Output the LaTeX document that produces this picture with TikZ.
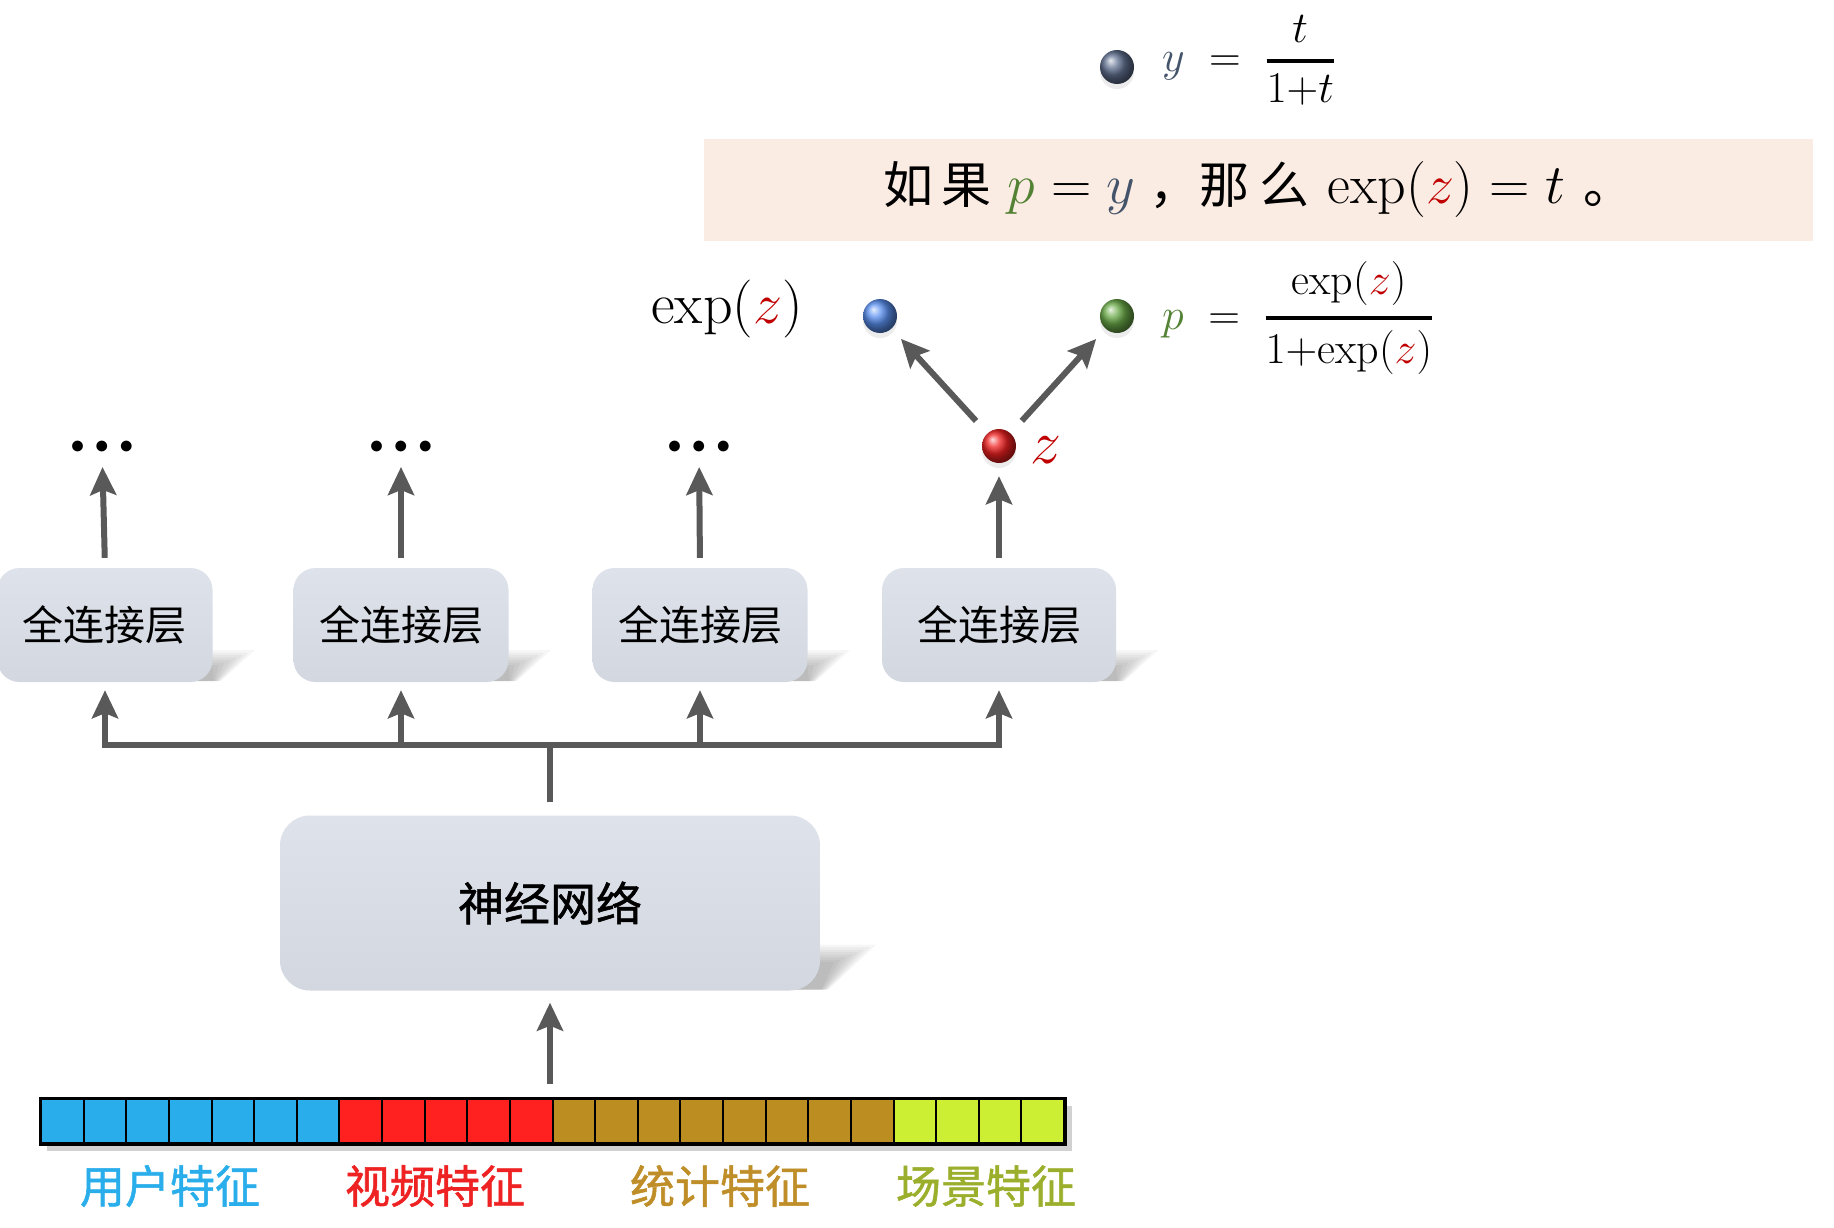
\RequirePackage{fix-cm}
\documentclass[tikz,border=0pt]{standalone}
\usepackage{fontspec}
\usepackage{amsmath}
\usetikzlibrary{arrows.meta,shadows,calc}
\pgfdeclarelayer{bg}
\pgfsetlayers{bg,main}
\newfontfamily\cjk{Noto Sans CJK SC}
\newfontfamily\cjkb[FakeBold=1.2]{Noto Sans CJK SC}
\definecolor{arrgray}{HTML}{595959}
\definecolor{boxtop}{HTML}{DEE2EA}
\definecolor{boxbot}{HTML}{D3D7E0}
\definecolor{bandc}{HTML}{FBECE3}
\definecolor{ycol}{HTML}{44546A}
\definecolor{pcol}{HTML}{548235}
\definecolor{zcol}{HTML}{C00000}
\definecolor{fblue}{HTML}{29AEEB}
\definecolor{fred}{HTML}{FF2020}
\definecolor{fbrown}{HTML}{BC8E22}
\definecolor{flime}{HTML}{CCEF33}
\definecolor{lblue}{HTML}{29AEEB}
\definecolor{lred}{HTML}{EE2222}
\definecolor{lbrown}{HTML}{BF8E28}
\definecolor{lolive}{HTML}{9BAF2C}
\definecolor{ballgrey}{HTML}{607090}
\definecolor{ballblue}{HTML}{5A90F0}
\definecolor{ballgreen}{HTML}{6AAA48}
\definecolor{ballred}{HTML}{F02020}
\newcommand{\myfrac}[2]{\genfrac{}{}{3.5pt}{0}{#1}{#2}}
\newcommand{\bshadow}[3]{%
  \foreach \k in {0,...,7}{%
    \fill[black,opacity=.035] ($(#1.south east)+(-40,-#2+\k*2.5)$) -- ($(#1.south east)+(#3-\k*6,-#2+\k*2.5)$)
      -- ($(#1.south east)+(8-\k,-1)$) -- ($(#1.south east)+(-40,-1)$) -- cycle;}}
\begin{document}
\begin{tikzpicture}[x=1pt,y=-1pt,
  arr/.style={draw=arrgray, line width=6pt, -{Stealth[length=28pt,width=26pt,inset=5pt]}},
  bus/.style={draw=arrgray, line width=6pt},
  box/.style={rounded corners=22pt, top color=boxtop, bottom color=boxbot, draw=none, inner sep=0},
  fc/.style={box, minimum width=215pt, minimum height=114pt, font=\cjk\fontsize{41}{44}\selectfont},
  ball/.style={circle, inner sep=0, minimum size=34pt, drop shadow={opacity=.15, shadow xshift=0pt, shadow yshift=-5pt}},
  dotsn/.style={inner sep=0, text height=14pt, text depth=0pt, font=\fontsize{28}{30}\selectfont},
  cell/.style={draw=black, line width=2pt, minimum width=42.625pt, minimum height=44pt, inner sep=0},
  flab/.style={font=\cjkb\fontsize{45}{48}\selectfont}
]
\begin{pgfonlayer}{bg}
\fill[white] (0,0) rectangle (1834,1228);
\end{pgfonlayer}
\useasboundingbox (0,0) rectangle (1834,1228);

% top formula
\node[ball, ball color=ballgrey] (yb) at (1117,67) {};
\node[anchor=base west, inner sep=0, font=\fontsize{44}{48}\selectfont] (yf) at (1162,72)
  {$\textcolor{ycol}{y}\;=\;\myfrac{t}{1{+}t}$};

% band
\node[fill=bandc, minimum width=1109pt, minimum height=102pt, inner sep=0,
      font=\cjk\fontsize{50}{54}\selectfont] (cond) at (1258.5,190)
  {如\hspace{8pt}果\hspace{16pt}{\fontsize{56}{60}\selectfont$\textcolor{pcol}{p}=\textcolor{ycol}{y}$}\hspace{14pt}，那\hspace{10pt}么\hspace{18pt}{\fontsize{56}{60}\selectfont$\exp(\textcolor{zcol}{z})=t$}\hspace{18pt}。};

% output balls
\node[font=\fontsize{58}{62}\selectfont] (ez) at (727,309) {$\exp(\textcolor{zcol}{z})$};
\node[ball, ball color=ballblue] (bb) at (880,316) {};
\node[ball, ball color=ballgreen] (gb) at (1117,316) {};
\node[anchor=base west, inner sep=0, font=\fontsize{44}{48}\selectfont] (pf) at (1162,329)
  {$\textcolor{pcol}{p}\;=\;\myfrac{\mathrm{exp}(\textcolor{zcol}{z})}{1{+}\mathrm{exp}(\textcolor{zcol}{z})}$};
\node[ball, ball color=ballred] (zb) at (999,446) {};
\node[anchor=base west, inner sep=0, font=\fontsize{62}{66}\selectfont] (zl) at (1030,463) {$\textcolor{zcol}{z}$};

\draw[arr, shorten <=34pt, shorten >=31pt] (zb.center) -- (bb.center);
\draw[arr, shorten <=34pt, shorten >=31pt] (zb.center) -- (gb.center);

% dots
\node[dotsn] (d1) at (102,446) {$\mathord{\bullet}\hspace{10.5pt}\mathord{\bullet}\hspace{10.5pt}\mathord{\bullet}$};
\node[dotsn] (d2) at (401,446) {$\mathord{\bullet}\hspace{10.5pt}\mathord{\bullet}\hspace{10.5pt}\mathord{\bullet}$};
\node[dotsn] (d3) at (699,446) {$\mathord{\bullet}\hspace{10.5pt}\mathord{\bullet}\hspace{10.5pt}\mathord{\bullet}$};

% fully connected boxes
\node[fc] (fc1) at (105,625) {全连接层};
\node[fc] (fc2) at (401,625) {全连接层};
\node[fc] (fc3) at (700,625) {全连接层};
\node[fc, minimum width=234pt] (fc4) at (999,625) {全连接层};

\draw[arr, shorten <=10pt, shorten >=21pt] (fc1.north) -- (d1.center);
\draw[arr, shorten <=10pt, shorten >=21pt] (fc2.north) -- (d2.center);
\draw[arr, shorten <=10pt, shorten >=21pt] (fc3.north) -- (d3.center);
\draw[arr, shorten <=10pt, shorten >=13pt] (fc4.north) -- (zb.south);

% neural network
\node[box, rounded corners=30pt, minimum width=540pt, minimum height=175pt,
      font=\cjkb\fontsize{46}{50}\selectfont] (nn) at (550,903) {神经网络};

% box shadows
\begin{pgfonlayer}{bg}
\bshadow{fc1}{32}{42}
\bshadow{fc2}{32}{42}
\bshadow{fc3}{32}{42}
\bshadow{fc4}{32}{42}
\bshadow{nn}{46}{56}
\end{pgfonlayer}

\coordinate (bt) at (550,745);
\coordinate (bs) at (550,802);
\coordinate (b1) at (fc1.south |- bt);
\coordinate (b2) at (fc2.south |- bt);
\coordinate (b3) at (fc3.south |- bt);
\coordinate (b4) at (fc4.south |- bt);
\draw[bus] (bs) -- (bt);
\draw[arr, line join=miter, shorten >=8pt] (bt) -- (b1) -- (fc1.south);
\draw[arr, line join=miter, shorten >=8pt] (bt) -- (b4) -- (fc4.south);
\draw[arr, shorten >=8pt] (b2) -- (fc2.south);
\draw[arr, shorten >=8pt] (b3) -- (fc3.south);

% feature bar
\fill[black, opacity=.18] (47,1106) rectangle (1072,1151);
\foreach \i in {1,...,24} {
  \pgfmathsetmacro\cx{41+42.625*(\i-0.5)}
  \ifnum\i<8 \def\cc{fblue}\else\ifnum\i<13 \def\cc{fred}\else\ifnum\i<21 \def\cc{fbrown}\else\def\cc{flime}\fi\fi\fi
  \node[cell, fill=\cc] (c\i) at (\cx,1121) {};
}
\draw[line width=3pt] (c1.north west) rectangle (c24.south east);

\coordinate (bartop) at (nn.south |- c12.north);
\draw[arr, shorten <=14pt, shorten >=12pt] (bartop) -- (nn.south);

\node[flab, text=lblue] (l1) at (170,1186) {用户特征};
\node[flab, text=lred] (l2) at (435,1186) {视频特征};
\node[flab, text=lbrown] (l3) at (720,1186) {统计特征};
\node[flab, text=lolive] (l4) at (986,1186) {场景特征};
\end{tikzpicture}
\end{document}
